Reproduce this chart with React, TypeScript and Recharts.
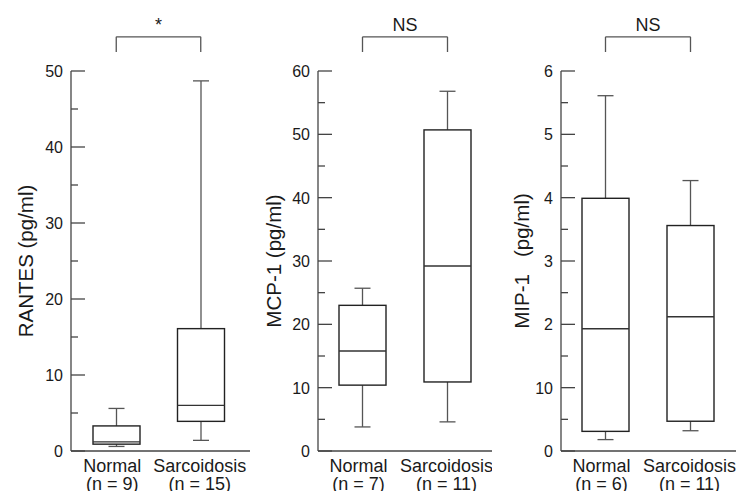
import React from "react";
import { ComposedChart, Bar, XAxis, YAxis, ReferenceLine } from "recharts";

// groups and sample sizes
const categories = ["Normal", "Sarcoidosis"];
const rantesN = [9, 15];
const mcpN = [7, 11];
const mipN = [6, 11];

// RANTES (pg/ml)
const rantesMin = [0.6, 1.4];
const rantesQ1 = [0.9, 3.9];
const rantesMedian = [1.2, 6.0];
const rantesQ3 = [3.3, 16.1];
const rantesMax = [5.6, 48.7];

// MCP-1 (pg/ml)
const mcpMin = [3.8, 4.6];
const mcpQ1 = [10.4, 10.9];
const mcpMedian = [15.8, 29.2];
const mcpQ3 = [23.0, 50.7];
const mcpMax = [25.7, 56.8];

// MIP-1 (pg/ml)
const mipMin = [0.18, 0.32];
const mipQ1 = [0.31, 0.47];
const mipMedian = [1.93, 2.12];
const mipQ3 = [3.99, 3.56];
const mipMax = [5.61, 4.27];

// y ticks (minor ticks carry an empty label)
const rantesTicks = [0, 5, 10, 15, 20, 25, 30, 35, 40, 45, 50];
const rantesTickLabels = ["0", "", "10", "", "20", "", "30", "", "40", "", "50"];
const mcpTicks = [0, 5, 10, 15, 20, 25, 30, 35, 40, 45, 50, 55, 60];
const mcpTickLabels = ["0", "", "10", "", "20", "", "30", "", "40", "", "50", "", "60"];
const mipTicks = [0, 0.5, 1, 1.5, 2, 2.5, 3, 3.5, 4, 4.5, 5, 5.5, 6];
const mipTickLabels = ["0", "", "10", "", "2", "", "3", "", "4", "", "5", "", "6"];

// significance brackets: [label, leg bottom, bracket top] in data units
const rantesSig = ["*", 52.5, 54.5];
const mcpSig = ["NS", 63.0, 65.4];
const mipSig = ["NS", 6.3, 6.54];

const FONT = '"Liberation Sans", Arial, Helvetica, sans-serif';
const INK = "#1a1a1a";
const LINE = "#444";

const buildData = (n, mins, q1s, meds, q3s, maxs) =>
  categories.map((name, i) => ({
    name,
    n: n[i],
    min: mins[i],
    q1: q1s[i],
    median: meds[i],
    q3: q3s[i],
    max: maxs[i],
    range: [mins[i], maxs[i]],
  }));

function BoxShape(props: any) {
  const { x, y, width, height, payload } = props;
  if (!payload) return null;
  const top = Math.min(y, y + height);
  const h = Math.abs(height);
  const span = payload.max - payload.min;
  const toY = (v: number) => top + (h * (payload.max - v)) / span;
  const cx = x + width / 2;
  const cap = 8;
  const yMax = toY(payload.max);
  const yQ3 = toY(payload.q3);
  const yMed = toY(payload.median);
  const yQ1 = toY(payload.q1);
  const yMin = toY(payload.min);
  return (
    <g>
      <line x1={cx} x2={cx} y1={yMax} y2={yQ3} stroke="#555" strokeWidth={1.3} />
      <line x1={cx - cap} x2={cx + cap} y1={yMax} y2={yMax} stroke="#555" strokeWidth={1.3} />
      <line x1={cx} x2={cx} y1={yQ1} y2={yMin} stroke="#555" strokeWidth={1.3} />
      <line x1={cx - cap} x2={cx + cap} y1={yMin} y2={yMin} stroke="#555" strokeWidth={1.3} />
      <rect x={x} y={yQ3} width={width} height={yQ1 - yQ3} fill="#fff" stroke="#222" strokeWidth={1.4} />
      <line x1={x} x2={x + width} y1={yMed} y2={yMed} stroke="#333" strokeWidth={1.4} />
    </g>
  );
}

function YTick(props: any) {
  const { x, y, index, labels } = props;
  const label = labels[index];
  const major = label !== "";
  return (
    <g>
      <line x1={x} x2={x + (major ? 14 : 7)} y1={y} y2={y} stroke={LINE} strokeWidth={1.3} />
      {major && (
        <text x={x - 8} y={y + 6} textAnchor="end" fontSize={16} fontFamily={FONT} fill={INK}>
          {label}
        </text>
      )}
    </g>
  );
}

const labelShift = [-4, -1];

function XTick(props: any) {
  const { x, y, payload, index, data } = props;
  const row = data[index];
  return (
    <g>
      <text x={x + labelShift[index]} y={y + 21} textAnchor="middle" fontSize={18} fontFamily={FONT} fill={INK}>
        {payload.value}
      </text>
      <text x={x + labelShift[index]} y={y + 38.5} textAnchor="middle" fontSize={18} fontFamily={FONT} fill={INK}>
        {`(n = ${row ? row.n : ""})`}
      </text>
    </g>
  );
}

function YLabel(props: any) {
  const { viewBox, text, dx } = props;
  const cx = viewBox.x + dx;
  const cy = viewBox.y + viewBox.height / 2;
  return (
    <text
      x={cx}
      y={cy}
      transform={`rotate(-90 ${cx} ${cy})`}
      textAnchor="middle"
      dominantBaseline="central"
      fontSize={20.5}
      fontFamily={FONT}
      fill={INK}
      style={{ whiteSpace: "pre" }}
    >
      {text}
    </text>
  );
}

function Panel({ left, width, data, yMax, ticks, tickLabels, yLabel, labelDx, sig, padding }: any) {
  const [sigText, legBottom, legTop] = sig;
  return (
    <div style={{ position: "absolute", left, top: 0 }}>
      <ComposedChart
        width={width}
        height={491}
        data={data}
        margin={{ top: 71, right: 0, bottom: 0, left: 0 }}
      >
        <XAxis
          dataKey="name"
          type="category"
          padding={padding}
          axisLine={{ stroke: LINE, strokeWidth: 1.3 }}
          tickLine={false}
          tickSize={0}
          tickMargin={0}
          height={40}
          interval={0}
          tick={<XTick data={data} />}
        />
        <YAxis
          type="number"
          domain={[0, yMax]}
          ticks={ticks}
          interval={0}
          width={71}
          axisLine={{ stroke: LINE, strokeWidth: 1.3 }}
          tickLine={false}
          tickSize={0}
          tickMargin={0}
          tick={<YTick labels={tickLabels} />}
          label={<YLabel text={yLabel} dx={labelDx} />}
        />
        <Bar dataKey="range" barSize={47} fill="none" shape={<BoxShape />} isAnimationActive={false} />
        <ReferenceLine
          segment={[{ x: categories[0], y: legBottom }, { x: categories[0], y: legTop }]}
          ifOverflow="visible"
          stroke="#555"
          strokeWidth={1.3}
        />
        <ReferenceLine
          segment={[{ x: categories[0], y: legTop }, { x: categories[1], y: legTop }]}
          ifOverflow="visible"
          stroke="#555"
          strokeWidth={1.3}
          label={{ value: sigText, position: "top", offset: 6, fontSize: 18, fontFamily: FONT, fill: INK }}
        />
        <ReferenceLine
          segment={[{ x: categories[1], y: legTop }, { x: categories[1], y: legBottom }]}
          ifOverflow="visible"
          stroke="#555"
          strokeWidth={1.3}
        />
      </ComposedChart>
    </div>
  );
}

export default function App() {
  const rantes = buildData(rantesN, rantesMin, rantesQ1, rantesMedian, rantesQ3, rantesMax);
  const mcp = buildData(mcpN, mcpMin, mcpQ1, mcpMedian, mcpQ3, mcpMax);
  const mip = buildData(mipN, mipMin, mipQ1, mipMedian, mipQ3, mipMax);
  return (
    <div style={{ position: "absolute", left: 0, top: 0, width: 736, height: 491, background: "#fff", overflow: "hidden" }}>
      <Panel
        left={0}
        width={250}
        data={rantes}
        yMax={50}
        ticks={rantesTicks}
        tickLabels={rantesTickLabels}
        yLabel="RANTES (pg/ml)"
        labelDx={25}
        sig={rantesSig}
        padding={{ left: 3, right: 7 }}
      />
      <Panel
        left={247}
        width={245}
        data={mcp}
        yMax={60}
        ticks={mcpTicks}
        tickLabels={mcpTickLabels}
        yLabel="MCP-1 (pg/ml)"
        labelDx={26}
        sig={mcpSig}
        padding={{ left: 2, right: 2 }}
      />
      <Panel
        left={490}
        width={246}
        data={mip}
        yMax={6}
        ticks={mipTicks}
        tickLabels={mipTickLabels}
        yLabel={"MIP-1\u00a0\u00a0\u00a0(pg/ml)"}
        labelDx={31}
        sig={mipSig}
        padding={{ left: 2, right: 3 }}
      />
    </div>
  );
}
